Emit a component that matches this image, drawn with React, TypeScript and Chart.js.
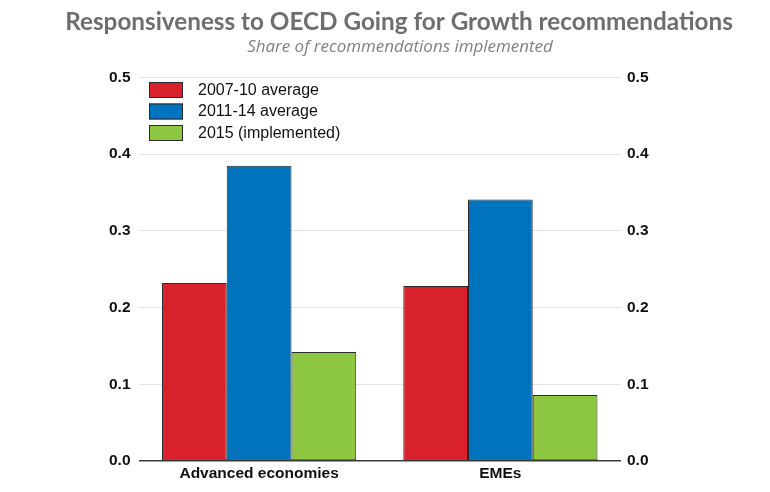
import React, { useEffect, useRef } from 'react';
import { Chart, registerables } from 'chart.js';
Chart.register(...registerables);

const titleText = 'Responsiveness to OECD Going for Growth recommendations';
const subtitleText = 'Share of recommendations implemented';
const categories = ['Advanced economies', 'EMEs'];
const seriesLabels = ['2007-10 average', '2011-14 average', '2015 (implemented)'];
const avg2007_10 = [0.232, 0.228];
const avg2011_14 = [0.385, 0.341];
const implemented2015 = [0.142, 0.086];
const seriesColors = ['#d9212b', '#0073bd', '#8dc641'];
const yMin = 0;
const yMax = 0.5;
const yStep = 0.1;

function fitFont(ctx: CanvasRenderingContext2D, text: string, style: string, family: string, size: number, target: number) {
  ctx.font = `${style} ${size}px ${family}`;
  const w = ctx.measureText(text).width;
  const s = size * target / w;
  return `${style} ${s.toFixed(2)}px ${family}`;
}

const headerPlugin = {
  id: 'header',
  afterDraw(chart: any) {
    const ctx = chart.ctx as CanvasRenderingContext2D;
    ctx.save();
    ctx.textAlign = 'center';
    ctx.textBaseline = 'alphabetic';
    ctx.fillStyle = '#6e6e6e';
    ctx.font = fitFont(ctx, titleText, 'bold', '"Lato", "Open Sans", sans-serif', 26, 668);
    ctx.fillText(titleText, 399, 29.5);
    ctx.fillStyle = '#808080';
    ctx.font = fitFont(ctx, subtitleText, 'italic', '"Open Sans", "Lato", sans-serif', 16, 306);
    ctx.fillText(subtitleText, 400, 52);
    ctx.restore();
  },
};

const legendPlugin = {
  id: 'innerLegend',
  afterDraw(chart: any) {
    const ctx = chart.ctx as CanvasRenderingContext2D;
    ctx.save();
    const x0 = 149;
    const y0 = 82;
    const step = 21.5;
    chart.data.datasets.forEach((ds: any, i: number) => {
      const y = y0 + i * step;
      ctx.fillStyle = ds.backgroundColor;
      ctx.fillRect(x0, y, 34, 16);
      ctx.strokeStyle = '#2a2a2a';
      ctx.lineWidth = 1;
      ctx.strokeRect(x0 + 0.5, y + 0.5, 33, 15);
      ctx.fillStyle = '#111';
      ctx.font = '16px "Liberation Sans", Arial, sans-serif';
      ctx.textBaseline = 'middle';
      ctx.textAlign = 'left';
      ctx.fillText(ds.label, 198, y + 8.5);
    });
    ctx.restore();
  },
};

const tickFont = { family: '"Liberation Sans", Arial, sans-serif', size: 15.5, weight: 'bold' as const };

export default function App() {
  const ref = useRef<HTMLCanvasElement | null>(null);
  useEffect(() => {
    document.body.style.margin = '0';
    const seriesValues = [avg2007_10, avg2011_14, implemented2015];
    const chart = new Chart(ref.current!, {
      type: 'bar',
      data: {
        labels: categories,
        datasets: seriesLabels.map((label, i) => ({
          label,
          data: seriesValues[i],
          backgroundColor: seriesColors[i],
          borderColor: '#2a2a2a',
          borderWidth: 1,
          borderSkipped: false,
          categoryPercentage: 0.805,
          barPercentage: 1.0,
          yAxisID: 'y',
        })),
      },
      options: {
        animation: false,
        responsive: false,
        devicePixelRatio: 1,
        layout: { padding: { top: 77.5, left: 0, right: 0, bottom: 0 } },
        plugins: {
          legend: { display: false },
          title: { display: false },
          tooltip: { enabled: false },
        },
        scales: {
          x: {
            grid: { display: false, drawTicks: false },
            border: { display: false },
            ticks: { font: tickFont, color: '#111', padding: 3 },
            afterFit: (s: any) => { s.height = 31; },
          },
          y: {
            position: 'left',
            min: yMin,
            max: yMax,
            border: { display: false },
            grid: {
              drawTicks: false,
              color: (c: any) => (c.tick && c.tick.value === 0 ? '#3a3a3a' : '#e3e3e3'),
              lineWidth: (c: any) => (c.tick && c.tick.value === 0 ? 1.5 : 1),
            },
            ticks: {
              stepSize: yStep,
              font: tickFont,
              color: '#111',
              padding: 8,
              callback: (v: any) => Number(v).toFixed(1),
            },
            afterFit: (s: any) => { s.width = 138.5; },
          },
          y2: {
            position: 'right',
            min: yMin,
            max: yMax,
            border: { display: false },
            grid: { display: false, drawTicks: false },
            ticks: {
              stepSize: yStep,
              font: tickFont,
              color: '#111',
              padding: 6,
              callback: (v: any) => Number(v).toFixed(1),
            },
            afterFit: (s: any) => { s.width = 149; },
          },
        },
      },
      plugins: [headerPlugin, legendPlugin],
    });
    return () => chart.destroy();
  }, []);
  return (
    <div style={{ width: 770, height: 492, background: '#fff' }}>
      <canvas ref={ref} width={770} height={492} style={{ display: 'block' }} />
    </div>
  );
}
